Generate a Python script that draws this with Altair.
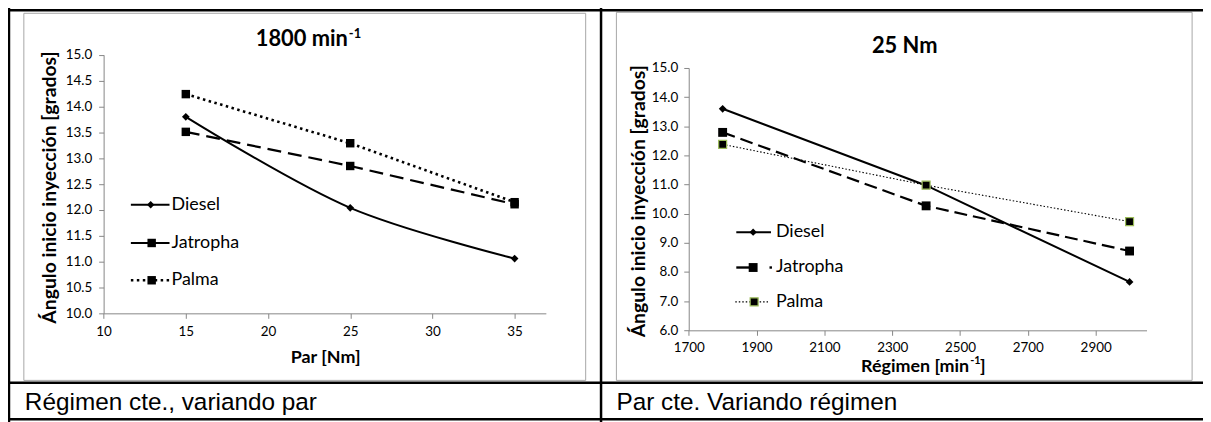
import altair as alt
import pandas as pd

# ---------------- data ----------------
series = ["Diesel", "Jatropha", "Palma"]

par_nm = [15, 25, 35]
left_diesel = [13.80, 12.04, 11.06]
left_jatropha = [13.51, 12.85, 12.11]
left_palma = [14.24, 13.29, 12.15]

regimen = [1800, 2400, 3000]
right_diesel = [13.60, 10.97, 7.66]
right_jatropha = [12.79, 10.27, 8.72]
right_palma = [12.38, 10.98, 9.73]

left_x_ticks = [10, 15, 20, 25, 30, 35]
left_y_ticks = [10.0, 10.5, 11.0, 11.5, 12.0, 12.5, 13.0, 13.5, 14.0, 14.5, 15.0]
right_x_ticks = [1700, 1900, 2100, 2300, 2500, 2700, 2900]
right_y_ticks = [6.0, 7.0, 8.0, 9.0, 10.0, 11.0, 12.0, 13.0, 14.0, 15.0]

left_title = "1800 min"
right_title = "25 Nm"
sup_text = "-1"
left_xtitle = "Par [Nm]"
right_xtitle = "Régimen [min"
ytitle = "Ángulo inicio inyección [grados]"
caption_left = "Régimen cte., variando par"
caption_right = "Par cte. Variando régimen"

# ---------------- layout helpers ----------------
W, H = 1203, 414
KX = W / 1206.0
KY = H / 419.0


def vx(r):
    return (r - 5) * KX


def vy(r):
    return (r - 3) * KY


FONT = "Lato"
CFONT = "Liberation Sans"
AXC = "#868686"
one = pd.DataFrame({"a": [0]})


def txt(s, x, y, size, bold=False, align="center", baseline="middle", font=FONT, angle=0):
    kw = dict(text=s, fontSize=size, fontWeight="bold" if bold else "normal",
              align=align, baseline=baseline, font=font, color="black")
    if angle:
        kw["angle"] = angle
    return alt.Chart(one).mark_text(**kw).encode(x=alt.value(vx(x)), y=alt.value(vy(y)))


def rule(x1, y1, x2, y2, color="black", width=1.0, dash=None):
    kw = dict(color=color, strokeWidth=width)
    if dash:
        kw["strokeDash"] = dash
    return alt.Chart(one).mark_rule(**kw).encode(
        x=alt.value(vx(x1)), y=alt.value(vy(y1)), x2=alt.value(vx(x2)), y2=alt.value(vy(y2)))


def frame(x1, y1, x2, y2):
    return alt.Chart(one).mark_rect(fill="white", fillOpacity=0, stroke="#a6a6a6", strokeWidth=1).encode(
        x=alt.value(vx(x1)), y=alt.value(vy(y1)), x2=alt.value(vx(x2)), y2=alt.value(vy(y2)))


def marker(x, y, shape, size, stroke=None):
    kw = dict(shape=shape, filled=True, size=size, fill="black", opacity=1)
    if stroke:
        kw["stroke"] = stroke
        kw["strokeWidth"] = 1.2
    else:
        kw["color"] = "black"
    return alt.Chart(one).mark_point(**kw).encode(x=alt.value(vx(x)), y=alt.value(vy(y)))


def long_df(xs, ys_list):
    rows = []
    for s, ys in zip(series, ys_list):
        for xv, yv in zip(xs, ys):
            rows.append({"s": s, "x": xv, "y": yv})
    return pd.DataFrame(rows)


def axis_common(**kw):
    base = dict(domainColor=AXC, tickColor=AXC, tickSize=5, domainWidth=1, tickWidth=1,
                labelFont=FONT, labelFontSize=13.5, labelColor="black", grid=False,
                labelFlush=False, labelOverlap=False, zindex=1,
                titleFont=FONT, titleFontSize=18, titleFontWeight="bold", titleColor="black")
    base.update(kw)
    return alt.Axis(**base)


# ---------------- left panel ----------------
dfL = long_df(par_nm, [left_diesel, left_jatropha, left_palma])
xL = alt.X("x:Q", scale=alt.Scale(domain=[10, 36.9], range=[vx(101.5), vx(547.8)], nice=False, zero=False),
           axis=axis_common(values=left_x_ticks, orient="bottom", offset=vy(312.7) - H, format="d",
                            labelPadding=6, title=left_xtitle, titleX=vx(325), titleY=(358 - 312.7) * KY,
                            titleBaseline="middle", titleAlign="center"))
yL = alt.Y("y:Q", scale=alt.Scale(domain=[10, 15], range=[vy(312.7), vy(49.3)], nice=False, zero=False),
           axis=axis_common(values=left_y_ticks, orient="left", offset=-vx(101.5), format=".1f",
                            labelPadding=7, title=ytitle, titleX=(47 - 101.5) * KX, titleY=vy(184),
                            titleFontSize=19.5,
                            titleBaseline="middle", titleAlign="center", titleAngle=270))
baseL = alt.Chart(dfL).encode(x=xL, y=yL)
left_panel = alt.layer(
    baseL.transform_filter(alt.datum.s == "Palma").mark_line(color="black", strokeWidth=2.6, strokeDash=[2.5, 3.5]),
    baseL.transform_filter(alt.datum.s == "Jatropha").mark_line(color="black", strokeWidth=2.2, strokeDash=[14, 7]),
    baseL.transform_filter(alt.datum.s == "Diesel").mark_line(color="black", strokeWidth=2, interpolate="catmull-rom"),
    baseL.transform_filter(alt.datum.s == "Diesel").mark_point(shape="diamond", filled=True, size=60, color="black", opacity=1),
    baseL.transform_filter(alt.datum.s != "Diesel").mark_point(shape="square", filled=True, size=72, color="black", opacity=1),
)

# ---------------- right panel ----------------
dfR = long_df(regimen, [right_diesel, right_jatropha, right_palma])
xR = alt.X("x:Q", scale=alt.Scale(domain=[1700, 3050], range=[vx(692), vx(1154)], nice=False, zero=False),
           axis=axis_common(values=right_x_ticks, orient="bottom", offset=vy(330) - H, format="d",
                            labelPadding=5, title=None))
yR = alt.Y("y:Q", scale=alt.Scale(domain=[6, 15], range=[vy(330), vy(62.7)], nice=False, zero=False),
           axis=axis_common(values=right_y_ticks, orient="left", offset=-vx(692), format=".1f",
                            labelPadding=6, title=ytitle, titleX=(641 - 692) * KX, titleY=vy(198),
                            titleFontSize=19.5,
                            titleBaseline="middle", titleAlign="center", titleAngle=270))
baseR = alt.Chart(dfR).encode(x=xR, y=yR)
right_panel = alt.layer(
    baseR.transform_filter(alt.datum.s == "Palma").mark_line(color="black", strokeWidth=1.1, strokeDash=[1.5, 2]),
    baseR.transform_filter(alt.datum.s == "Jatropha").mark_line(color="black", strokeWidth=2.2, strokeDash=[13, 6]),
    baseR.transform_filter(alt.datum.s == "Diesel").mark_line(color="black", strokeWidth=2),
    baseR.transform_filter(alt.datum.s == "Diesel").mark_point(shape="diamond", filled=True, size=60, color="black", opacity=1),
    baseR.transform_filter(alt.datum.s == "Jatropha").mark_point(shape="square", filled=True, size=80, color="black", opacity=1),
    baseR.transform_filter(alt.datum.s == "Palma").mark_point(shape="square", filled=True, size=64, fill="black",
                                                               stroke="#9BBB59", strokeWidth=1.2, opacity=1),
)

# ---------------- decorations ----------------
deco = [
    frame(21, 7, 588, 381),
    frame(619, 6, 1200, 381),
    rule(0, 4, 1215, 4, width=2.5),
    rule(6, 0, 6, 425, width=2.5),
    rule(603.5, 0, 603.5, 425, width=2.5),
    rule(0, 383.5, 1215, 383.5, width=2.5),
    rule(0, 420.5, 1215, 420.5, width=2.5),
]

texts = [
    txt(left_title, 348, 33, 22, bold=True, align="right"),
    txt(sup_text, 349, 28, 13, bold=True, align="left"),
    txt(right_title, 910, 40, 22, bold=True),
    txt(right_xtitle, 975, 367, 18, bold=True, align="right"),
    txt(sup_text, 976, 361, 11, bold=True, align="left"),
    txt("]", 986, 367, 18, bold=True, align="left"),
    txt(caption_left, 22, 411, 24.5, align="left", baseline="alphabetic", font=CFONT),
    txt(caption_right, 619, 411, 24.5, align="left", baseline="alphabetic", font=CFONT),
]

# legends (drawn like Excel's inline legend)
legend = []
for lbl, yy in zip(series, [202, 241, 279]):
    legend.append(txt(lbl, 170, yy, 18, align="left"))
legend += [
    rule(129, 202, 168, 202, width=2), marker(149, 202, "diamond", 55),
    rule(129, 241, 168, 241, width=2), marker(150, 241, "square", 72),
    rule(129, 279, 168, 279, width=2.6, dash=[2.5, 3.5]), marker(150, 279, "square", 72),
]
for lbl, yy in zip(series, [230, 266, 301]):
    legend.append(txt(lbl, 780, yy, 18, align="left"))
legend += [
    rule(740, 230, 775, 230, width=2), marker(757, 230, "diamond", 55),
    rule(740, 266, 760, 266, width=2.4), marker(757, 266, "square", 80),
    rule(773.5, 266, 776, 266, width=2.4),
    rule(739, 301, 772, 301, width=1.1, dash=[1.5, 2]), marker(758, 301, "square", 64, stroke="#9BBB59"),
]

chart = alt.layer(
    *deco, left_panel, right_panel, *texts, *legend
).resolve_scale(
    x="independent", y="independent"
).resolve_axis(
    x="independent", y="independent"
).properties(
    width=W, height=H, padding=0, background="white",
    autosize=alt.AutoSizeParams(type="none"),
).configure_view(stroke=None)

chart.save("out.html", embed_options={"renderer": "svg", "actions": False})
